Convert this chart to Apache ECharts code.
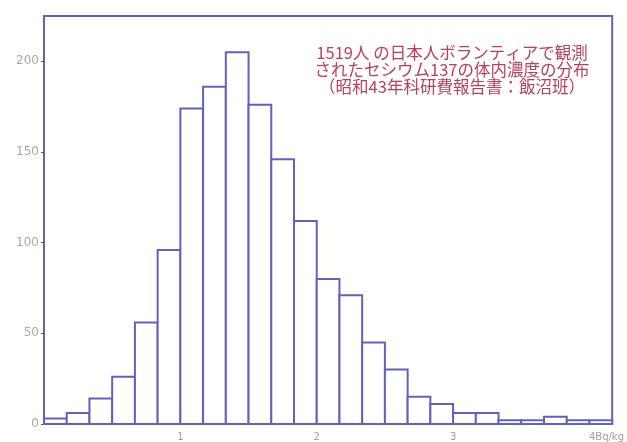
<!DOCTYPE html>
<html>
<head>
<meta charset="utf-8">
<script src="https://cdn.jsdelivr.net/npm/echarts@6/dist/echarts.min.js"></script>
<style>
  html, body { margin: 0; padding: 0; background: #fffffd; }
  #chart { width: 627px; height: 442px; }
</style>
</head>
<body>
<div id="chart"></div>
<script>
// Histogram of whole-body Cs-137 concentration (Bq/kg), bins of 1/6 Bq/kg starting at 0
const binWidth = 1 / 6;
const counts = [3, 6, 14, 26, 56, 96, 174, 186, 205, 176, 146, 112, 80, 71, 45, 30, 15, 11, 6, 6, 2, 2, 4, 2, 2];
const xTicks = [1, 2, 3, 4];
const xUnit = 'Bq/kg';
const yTicks = [0, 50, 100, 150, 200];
const titleLines = [
  '1519人 の日本人ボランティアで観測',
  'されたセシウム137の体内濃度の分布',
  '（昭和43年科研費報告書：飯沼班）'
];

const lineColor = '#6262bb';
const bins = counts.map((c, i) => [i * binWidth, (i + 1) * binWidth, c]);

const chart = echarts.init(document.getElementById('chart'), null, { renderer: 'canvas' });
chart.setOption({
  backgroundColor: '#fffffd',
  animation: false,
  grid: {
    left: 44, right: 12, top: 16, bottom: 10,
    show: true, borderColor: lineColor, borderWidth: 2, backgroundColor: 'transparent'
  },
  xAxis: {
    type: 'value',
    min: 0,
    max: counts.length * binWidth,
    interval: 1,
    axisLine: { show: false },
    axisTick: { show: false },
    splitLine: { show: false },
    axisLabel: {
      showMinLabel: false,
      showMaxLabel: false,
      margin: 8,
      color: '#a0a0a0',
      fontSize: 10,
      fontFamily: 'DejaVu Sans',
      formatter: v => xTicks.includes(v) ? (v === 4 ? '{u|' + v + xUnit + '}' : String(v)) : '',
      rich: {
        u: { color: '#a0a0a0', fontSize: 10, fontFamily: 'DejaVu Sans', padding: [0, 0, 0, 34] }
      }
    }
  },
  yAxis: {
    type: 'value',
    min: 0,
    max: 225,
    interval: 50,
    axisLine: { show: false },
    axisTick: { show: true, length: 3, lineStyle: { color: '#555', width: 1 } },
    splitLine: { show: false },
    axisLabel: {
      showMaxLabel: false,
      margin: 5,
      color: '#a8a8a8',
      fontSize: 12,
      fontFamily: 'DejaVu Sans',
      formatter: v => yTicks.includes(v) ? String(v) : ''
    }
  },
  series: [{
    type: 'custom',
    data: bins,
    renderItem: (params, api) => {
      const p0 = api.coord([api.value(0), api.value(2)]);
      const p1 = api.coord([api.value(1), 0]);
      return {
        type: 'rect',
        shape: { x: p0[0], y: p0[1], width: p1[0] - p0[0], height: p1[1] - p0[1] },
        style: { fill: '#ffffff', stroke: lineColor, lineWidth: 2 }
      };
    },
    encode: { x: [0, 1], y: 2 }
  }],
  graphic: [{
    type: 'text',
    x: 452, y: 44,
    style: {
      text: titleLines.join('\n'),
      x: 0, y: 0,
      textAlign: 'center',
      fill: '#b8405f',
      fontSize: 16.5,
      lineHeight: 17,
      fontFamily: 'Noto Sans CJK JP'
    }
  }]
});
</script>
</body>
</html>
